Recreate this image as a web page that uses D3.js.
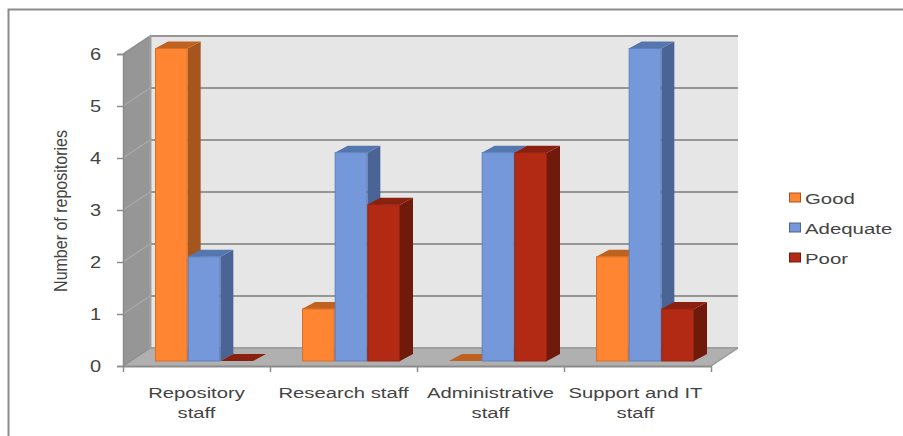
<!DOCTYPE html>
<html><head><meta charset="utf-8">
<script src="https://cdn.jsdelivr.net/npm/d3@7"></script>
<style>html,body{margin:0;padding:0;background:#fff;overflow:hidden}svg{display:block}text{font-family:"Liberation Sans",Arial,sans-serif;fill:#444}</style>
</head><body><div id="c"></div>
<script>
const categories = [["Repository","staff"],["Research staff"],["Administrative","staff"],["Support and IT","staff"]];
const seriesNames = ["Good","Adequate","Poor"];
const good = [6,1,0,2];
const adequate = [2,4,4,6];
const poor = [0,3,4,1];
const yTicks = [0,1,2,3,4,5,6];
const faceColors = ["#FF8533","#7498DA","#B22A13"];
const strokeColors = ["#D96E24","#5F82BE","#96230F"];
const sideColors = ["#A5561F","#4A6496","#701A0C"];
const topColors = ["#C0621F","#5677AE","#8A2010"];
const seriesValues = [good,adequate,poor];

const W=903,H=436;
const svg=d3.select("#c").append("svg").attr("width",W).attr("height",H);
const DX=27,DY=18,BDX=13,BDY=7;
const x=d3.scaleBand().domain(d3.range(categories.length)).range([123,711]);
const yFront=d3.scaleLinear().domain([0,6]).range([366,54]);
const yBar=d3.scaleLinear().domain([0,6]).range([361,48.5]);
const inner=d3.scaleBand().domain(d3.range(3)).range([32,32+98]);

// outer frame
svg.append("path").attr("d",`M8.5,${H}V9.5H${W}`).attr("fill","none").attr("stroke","#8c8c8c").attr("stroke-width",2);

// walls
const g=svg.append("g");
g.append("rect").attr("x",123+DX).attr("y",yFront(6)-DY).attr("width",588).attr("height",yFront(0)-yFront(6)).attr("fill","#e6e6e6");
g.append("path").attr("d",`M123,${yFront(6)}L${123+DX},${yFront(6)-DY}V${yFront(0)-DY}L123,${yFront(0)}Z`).attr("fill","#969696");
g.append("path").attr("d",`M123,${yFront(0)}L${123+DX},${yFront(0)-DY}H${711+DX}L711,${yFront(0)}Z`).attr("fill","#b0b0b0");
// gridlines
yTicks.forEach(t=>{
  const yy=yFront(t);
  g.append("path").attr("d",`M123,${yy}L${123+DX},${yy-DY}`).attr("fill","none").attr("stroke",t==0||t==6?"#8c8c8c":"#a8a8a8").attr("stroke-width",1.5);
  g.append("line").attr("x1",123+DX).attr("x2",711+DX).attr("y1",yy-DY).attr("y2",yy-DY).attr("stroke",t==0?"#a0a0a0":"#969696").attr("stroke-width",2);
});
g.append("line").attr("x1",123+DX+.5).attr("x2",123+DX+.5).attr("y1",yFront(6)-DY).attr("y2",yFront(0)-DY).attr("stroke","#a0a0a0").attr("stroke-width",2);
g.append("path").attr("d",`M711,${yFront(0)}L${711+DX},${yFront(0)-DY}`).attr("fill","none").attr("stroke","#969696").attr("stroke-width",1.5);

// bars
categories.forEach((c,i)=>{
  seriesValues.forEach((vals,s)=>{
    const v=vals[i], x0=x(i)+inner(s), bw=inner.bandwidth(), y1=yBar(v), y0=yBar(0);
    const b=g.append("g");
    b.append("path").attr("d",`M${x0+bw},${y1}L${x0+bw+BDX},${y1-BDY}V${y0-BDY}L${x0+bw},${y0}Z`).attr("fill",sideColors[s]);
    b.append("path").attr("d",`M${x0},${y1}L${x0+BDX},${y1-BDY}H${x0+bw+BDX}L${x0+bw},${y1}Z`).attr("fill",topColors[s]);
    if(v>0) b.append("rect").attr("x",x0+.5).attr("y",y1).attr("width",bw-1).attr("height",y0-y1).attr("fill",faceColors[s]).attr("stroke",strokeColors[s]);
  });
});

// axes
const axY=svg.append("g").attr("transform","translate(123,0)").call(d3.axisLeft(yFront).tickValues(yTicks).tickSize(6).tickFormat(""));
axY.selectAll("line").attr("stroke","#8c8c8c").attr("stroke-width",1.5);
axY.select(".domain").attr("stroke","#8c8c8c").attr("stroke-width",1.5);
const xTicks=d3.range(categories.length+1).map(i=>123+i*x.step());
const axX=svg.append("g").attr("transform",`translate(0,${yFront(0)})`).call(d3.axisBottom(d3.scaleLinear().domain([123,711]).range([123,711])).tickValues(xTicks).tickSize(6).tickSizeOuter(0).tickFormat(""));
axX.selectAll("line").attr("stroke","#8c8c8c").attr("stroke-width",1.5);
axX.select(".domain").attr("stroke","#8c8c8c").attr("stroke-width",2);

function label(px,py,str,sx,anchor,size){
  svg.append("text").attr("transform",`translate(${px},${py}) scale(${sx},1)`).attr("text-anchor",anchor).attr("font-size",size).text(str);
}
yTicks.forEach(t=>label(95.5,yFront(t)+6,String(t),1.25,"middle",16));
categories.forEach((c,i)=>c.forEach((ln,k)=>label(x(i)+x.bandwidth()/2-(i==3?2:0),398+k*19.5,ln,1.35,"middle",15)));
svg.append("text").attr("transform","translate(67,211) rotate(-90) scale(0.89,1)").attr("text-anchor","middle").attr("font-size",18).text("Number of repositories");

// legend
const lg=d3.scalePoint().domain(seriesNames).range([198,258]);
seriesNames.forEach((n,s)=>{
  svg.append("rect").attr("x",789.5).attr("y",lg(n)-5).attr("width",11).attr("height",9).attr("fill",faceColors[s]).attr("stroke",sideColors[s]);
  label(805,lg(n)+6,n,1.36,"start",15);
});
</script></body></html>
